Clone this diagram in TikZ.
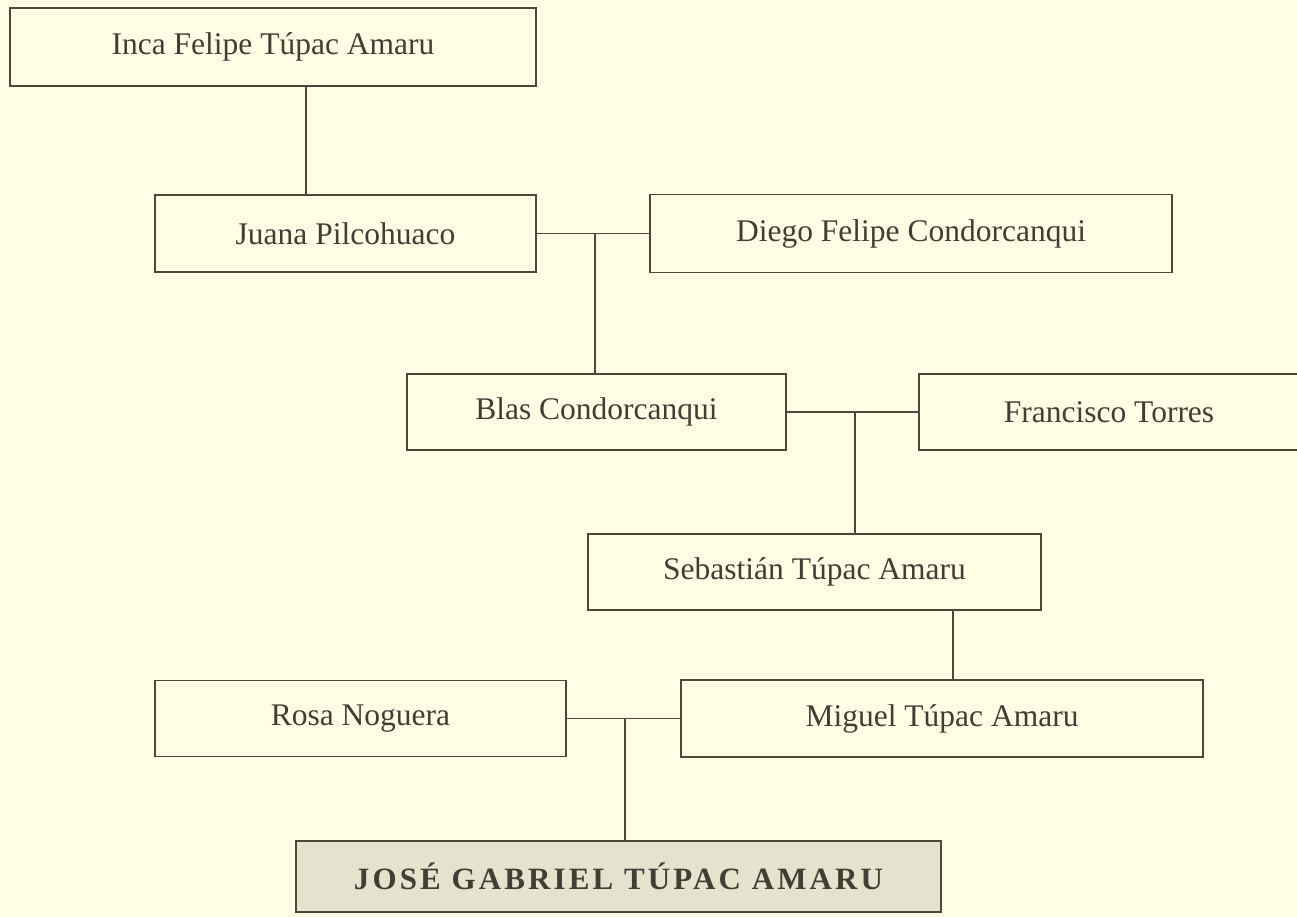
\documentclass[tikz,border=0pt]{standalone}
\usepackage{fontspec}
\setmainfont{Liberation Serif}
\usepackage{tikz}

\definecolor{paper}{HTML}{FFFFE6}
\definecolor{ink}{HTML}{4A4A3C}
\definecolor{shade}{HTML}{E5E2CE}
\tikzset{
	person/.style={draw=ink, line width=1.8pt, fill=paper, text=ink!85!black, inner sep=0pt, font=\fontsize{31.5}{36}\selectfont},
	heir/.style={person, fill=shade, font=\fontsize{31}{36}\selectfont\bfseries\addfontfeatures{LetterSpace=10}},
	link/.style={draw=ink, line width=1.8pt},
}

\begin{document}
\begin{tikzpicture}[x=1pt,y=-1pt]
	\useasboundingbox[fill=paper] (0,0) rectangle (1297,917);

	\node[person, minimum width=526, minimum height=78] (inca) at (273,47) {Inca Felipe Túpac Amaru};
	\node[person, minimum width=381, minimum height=77] (juana) at (345.5,233.5) {Juana Pilcohuaco};
	\node[person, minimum width=522, minimum height=78] (diego) at (911,233.5) {Diego Felipe Condorcanqui};
	\node[person, minimum width=379, minimum height=76] (blas) at (596.5,412) {Blas Condorcanqui};
	\node[person, minimum width=380, minimum height=76] (francisco) at (1109,412) {Francisco Torres};
	\node[person, minimum width=453, minimum height=76] (sebastian) at (814.5,572) {Sebastián Túpac Amaru};
	\node[person, minimum width=522, minimum height=77] (miguel) at (942,718.5) {Miguel Túpac Amaru};
	\node[person, minimum width=411, minimum height=76] (rosa) at (360.5,718.5) {Rosa Noguera};
	\node[heir, minimum width=645, minimum height=71] (jose) at (618.5,876.5) {JOSÉ GABRIEL TÚPAC AMARU};

	% descent lines
	\coordinate (c1) at (306,86);
	\coordinate (c2) at (595,233.5);
	\coordinate (c3) at (855,412);
	\coordinate (c4) at (953,610);
	\coordinate (c5) at (625,718.5);

	\draw[link] (c1) -- (c1 |- juana.north);
	\draw[link] (juana.east) -- (diego.west);
	\draw[link] (c2) -- (c2 |- blas.north);
	\draw[link] (blas.east) -- (francisco.west);
	\draw[link] (c3) -- (c3 |- sebastian.north);
	\draw[link] (c4) -- (c4 |- miguel.north);
	\draw[link] (rosa.east) -- (miguel.west);
	\draw[link] (c5) -- (c5 |- jose.north);
\end{tikzpicture}
\end{document}
